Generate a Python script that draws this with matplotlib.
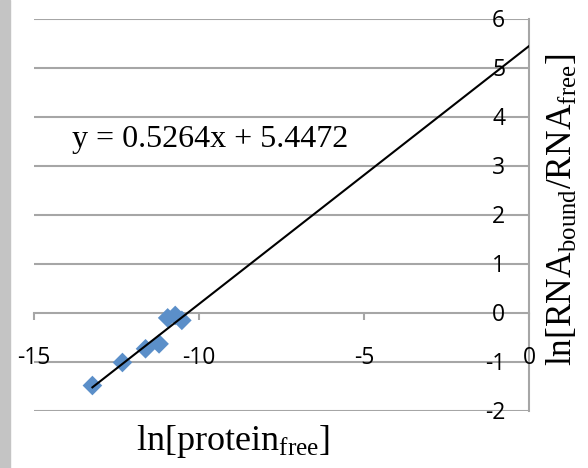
import numpy as np
import matplotlib.pyplot as plt
from matplotlib.patches import Rectangle

plt.rcParams['mathtext.fontset'] = 'custom'
plt.rcParams['mathtext.rm'] = 'Liberation Serif'
plt.rcParams['mathtext.it'] = 'Liberation Serif:italic'

# data
ln_protein = [-13.23, -12.32, -11.62, -11.21, -10.95, -10.72, -10.52]
ln_ratio = [-1.48, -1.01, -0.73, -0.63, -0.10, -0.05, -0.15]
slope = 0.5264
intercept = 5.4472

x_ticks = [-15, -10, -5, 0]
y_ticks = [-2, -1, 0, 1, 2, 3, 4, 5, 6]

grid_col = '#a6a6a6'
serif = 'Liberation Serif'
sans = 'Open Sans'

fig = plt.figure(figsize=(5.88, 4.68), dpi=100)
ax = fig.add_axes([34/588, 1 - 411/468, 495/588, 392/468])
ax.set_xlim(-15, 0)
ax.set_ylim(-2, 6)

# photo edge on the left
fig.patches.append(Rectangle((0, 0), 10/588, 1, transform=fig.transFigure,
                             color='#c4c4c4', zorder=0))

for y in y_ticks:
    if y != 0:
        ax.axhline(y, color=grid_col, lw=1.5, zorder=1)

for s in ['top', 'right']:
    ax.spines[s].set_visible(False)
ax.spines['left'].set_position(('data', 0))
ax.spines['bottom'].set_position(('data', 0))
for s in ['left', 'bottom']:
    ax.spines[s].set_color(grid_col)
    ax.spines[s].set_linewidth(1.5)

ax.set_xticks(x_ticks)
ax.set_yticks(y_ticks)
ax.tick_params(axis='x', direction='out', length=5, width=1.5, color=grid_col,
               labelbottom=False)
ax.tick_params(axis='y', length=0, labelleft=False)

# tick labels drawn by hand, Excel puts them away from the axis lines
for xv in x_ticks:
    ax.text(xv, -0.92, str(xv), fontfamily=sans, fontsize=16.5,
            ha='center', va='center', clip_on=False)
for yv in y_ticks:
    ax.text(-0.72, yv - 0.05, str(yv), fontfamily=sans, fontsize=16.5,
            ha='right', va='center', clip_on=False)

ax.scatter(ln_protein, ln_ratio, marker='D', s=100, color='#5b8fc9',
           edgecolors='none', zorder=3)

xt = np.array([min(ln_protein), 0])
ax.plot(xt, slope * xt + intercept, color='black', lw=1.5, zorder=4)

fig.text(72/588, 1 - 140/468, f'y = {slope}x + {intercept}', fontfamily=serif,
         fontsize=23, va='center', ha='left')
fig.text(233/588, 1 - 441/468, r'ln[protein$_{\mathrm{free}}$]', fontfamily=serif,
         fontsize=26, va='center', ha='center')
fig.text(563/588, 1 - 210/468, r'ln[RNA$_{\mathrm{bound}}$/RNA$_{\mathrm{free}}$]',
         fontfamily=serif, fontsize=25.5, va='center', ha='center', rotation=90)

fig.savefig('out.png', dpi=100)
